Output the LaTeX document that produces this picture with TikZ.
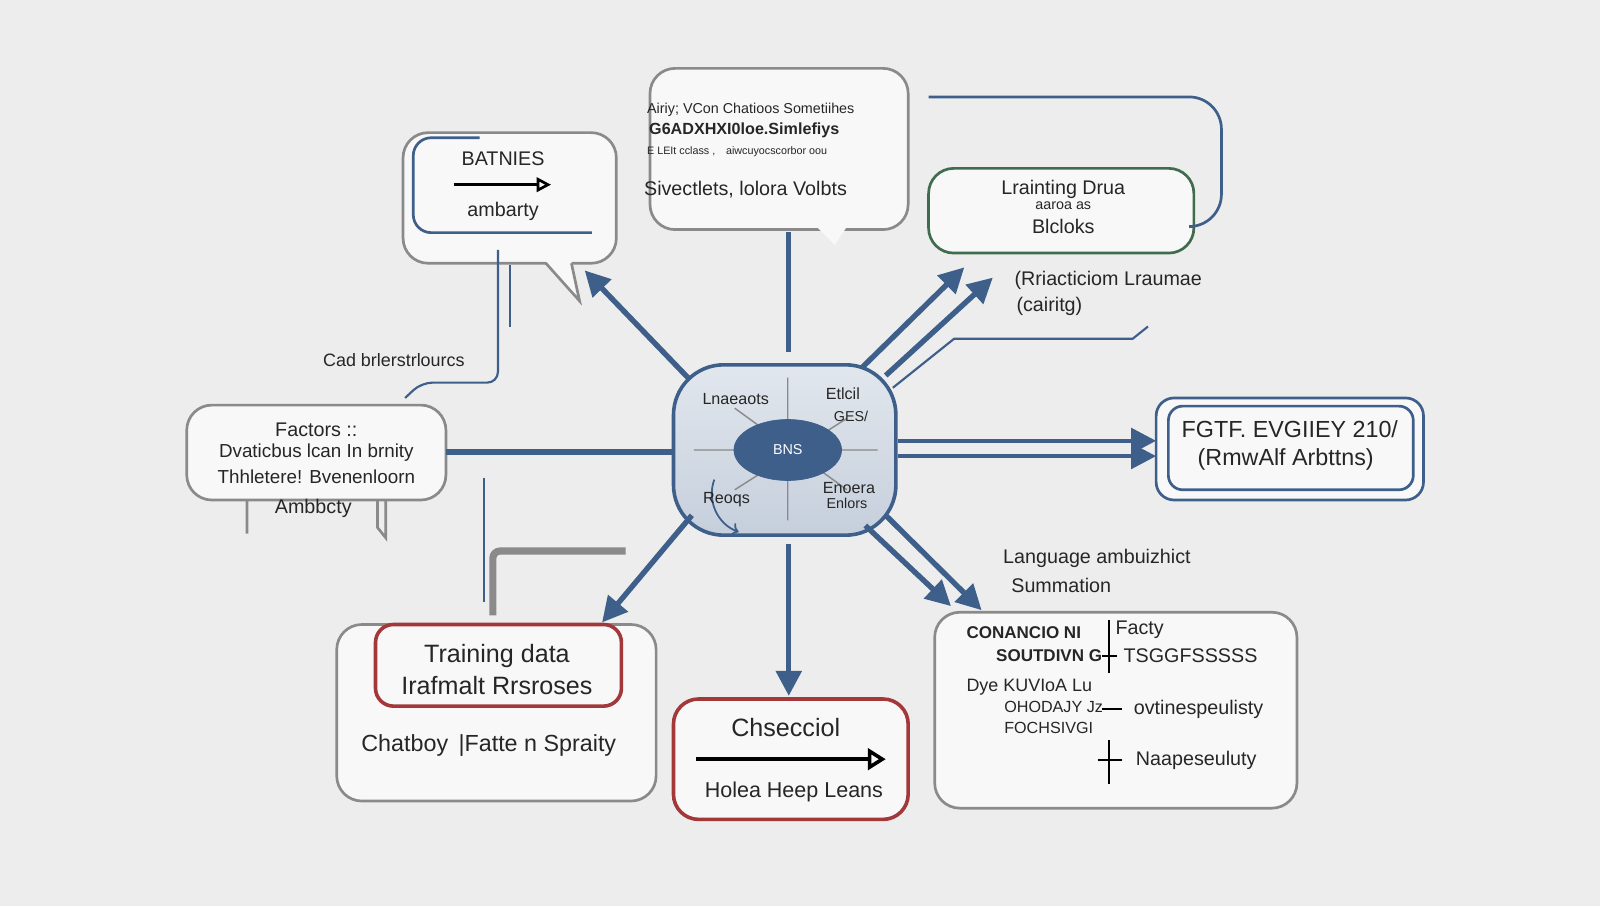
\documentclass[tikz,border=0pt]{standalone}
\usepackage{fontspec}
\setmainfont{Liberation Sans}
\usetikzlibrary{arrows.meta,shapes.geometric}
\definecolor{bg}{HTML}{EDEDED}
\definecolor{nb}{HTML}{3E5F8A}
\definecolor{gb}{HTML}{8A8A8A}
\definecolor{gr}{HTML}{3F6B4E}
\definecolor{rd}{HTML}{A2383A}
\tikzset{x=0.02cm,y=-0.02cm,
 box/.style={draw=gb,line width=1.5pt,rounded corners=14pt,fill=white!60!bg},
 conn/.style={draw=nb,line width=3pt},
 arr/.style={conn,-{Triangle[length=14pt,width=14pt]}},
 t/.style={font=\fontsize{11pt}{13pt}\selectfont,text=black!85},
 ts/.style={font=\fontsize{8pt}{9pt}\selectfont,text=black!85}}
\begin{document}
\begin{tikzpicture}
\fill[bg] (0,0) rectangle (1568,888);
\useasboundingbox (0,0) rectangle (1568,888);
% top center speech box
\draw[box] (637,67) rectangle (890,225);
\fill[white!60!bg] (800,222) -- (830,222) -- (818,240) -- cycle;
\node[ts,anchor=west] (a1) at (628,108) {Airiy; VCon Chatioos Sometiihes};
\node[ts,anchor=west,font=\fontsize{9pt}{10pt}\selectfont\bfseries] (a2) at (630,128) {G6ADXHXI0loe.Simlefiys};
\node[ts,anchor=west,font=\fontsize{6pt}{7pt}\selectfont] (a3) at (628,149) {E LEIt cclass ,\quad aiwcuyocscorbor oou};
\node[t,anchor=west] (a4) at (625,186) {Sivectlets, lolora Volbts};
% top left box
\draw[box] (395,130) rectangle (604,258);
\fill[white!60!bg] (535,256) -- (565,295) -- (560,256) -- cycle;
\draw[gb,line width=1.5pt] (535,258) -- (568,295) -- (560,258);
\draw[nb,line width=1.5pt,rounded corners=10pt] (580,228) -- (405,228) -- (405,135) -- (470,135);
\node[t] (b1) at (493,156) {BATNIES};
\draw[black,line width=1.5pt,-{Triangle[open,length=8pt,width=8pt]}] (445,181) -- (540,181);
\node[t] (b2) at (493,207) {ambarty};
% top right green
\draw[box,draw=gr] (910,165) rectangle (1170,248);
\node[t] (g1) at (1042,186) {Lrainting Drua};
\node[ts] (g2) at (1042,202) {aaroa as};
\node[t] (g3) at (1042,222) {Blcloks};
\draw[nb,line width=1.5pt,rounded corners=18pt] (910,95) -- (1197,95) -- (1197,222) -- (1170,222);
\node[t,anchor=west] (r1) at (988,275) {(Rriacticiom Lraumae};
\node[t,anchor=west] (r2) at (990,300) {(cairitg)};
\draw[nb,line width=1.2pt] (1125,320) -- (1110,332) -- (935,332) -- (875,380);
% right box
\draw[nb,line width=1.5pt,rounded corners=10pt,fill=white!60!bg] (1133,390) rectangle (1395,490);
\draw[nb,line width=1.5pt,rounded corners=8pt] (1145,398) rectangle (1385,480);
\node[t,font=\fontsize{13pt}{15pt}\selectfont] (rb1) at (1264,421) {FGTF. EVGIIEY 210/};
\node[t,font=\fontsize{13pt}{15pt}\selectfont] (rb2) at (1260,450) {(RmwAlf Arbttns)};
% center
\node[draw=nb,line width=2pt,rounded corners=28pt,inner sep=0pt,minimum width=4.36cm,minimum height=3.34cm,top color=white!85!nb,bottom color=white!70!nb] (c) at (769,441) {};
\draw[gb,line width=0.8pt] (680,441) -- (860,441) (772,370) -- (772,510) (720,400) -- (830,480) (830,410) -- (720,480);
\draw[nb,line width=1pt,->] (700,470) arc (200:110:40);
\node[draw=nb,fill=nb,ellipse,text=white,font=\fontsize{8pt}{9pt}\selectfont,minimum width=60pt,minimum height=34pt] (bns) at (772,441) {BNS};
\node[ts,font=\fontsize{9pt}{10pt}\selectfont] (c1) at (721,391) {Lnaeaots};
\node[ts,font=\fontsize{9pt}{10pt}\selectfont] (c2) at (826,386) {Etlcil};
\node[ts] (c3) at (834,408) {GES/};
\node[ts,font=\fontsize{9pt}{10pt}\selectfont] (c4) at (712,490) {Reoqs};
\node[ts,font=\fontsize{9pt}{10pt}\selectfont] (c5) at (832,478) {Enoera};
\node[ts] (c6) at (830,493) {Enlors};
% left
\draw[box] (183,397) rectangle (437,490);
\node[t] (l1) at (310,421) {Factors ::};
\node[t,font=\fontsize{10.5pt}{12pt}\selectfont] (l2) at (310,444) {Dvaticbus lcan In brnity};
\node[t,font=\fontsize{10.5pt}{12pt}\selectfont] (l3) at (310,467) {Thhletere! Bvenenloorn};
\node[t] (l4) at (307,498) {Ambbcty};
\draw[gb,line width=1.5pt] (242,490) -- (242,523) (370,490) -- (370,517) -- (378,527) -- (378,490);
\node[t,font=\fontsize{10pt}{12pt}\selectfont] (cb) at (386,353) {Cad brlerstrlourcs};
\draw[nb,line width=1.2pt,rounded corners=6pt] (488,245) -- (488,375) -- (413,375) -- (397,390);
\draw[nb,line width=1pt] (500,260) -- (500,320);
\draw[nb,line width=1pt] (474,468) -- (474,590);
\draw[gb,line width=4pt,rounded corners=4pt] (483,603) -- (483,540) -- (613,540);
% bottom left
\draw[box] (330,612) rectangle (643,785);
\draw[rd,line width=2pt,rounded corners=10pt,fill=white!60!bg] (368,612) rectangle (609,692);
\node[t,font=\fontsize{14pt}{16pt}\selectfont] (bl1) at (487,643) {Training data};
\node[t,font=\fontsize{14pt}{16pt}\selectfont] (bl2) at (487,672) {Irafmalt Rrsroses};
\node[t,font=\fontsize{13pt}{15pt}\selectfont] (bl3) at (479,731) {Chatboy \,|Fatte n Spraity};
% bottom center
\draw[box,draw=rd,line width=2pt] (660,685) rectangle (890,803);
\node[t,font=\fontsize{14pt}{16pt}\selectfont] (bc1) at (770,713) {Chsecciol};
\draw[black,line width=2pt,-{Triangle[open,length=10pt,width=12pt]}] (682,744) -- (868,744);
\node[t,font=\fontsize{12pt}{14pt}\selectfont] (bc2) at (778,776) {Holea Heep Leans};
% bottom right
\draw[box] (916,600) rectangle (1271,792);
\node[ts,font=\fontsize{9.5pt}{11pt}\selectfont\bfseries,anchor=west] (q1) at (941,620) {CONANCIO NI};
\node[ts,font=\fontsize{9.5pt}{11pt}\selectfont\bfseries,anchor=west] (q2) at (970,643) {SOUTDIVN G};
\node[t,anchor=west] (q3) at (1087,617) {Facty};
\node[t,anchor=west] (q4) at (1095,643) {TSGGFSSSSS};
\draw[black,line width=1pt] (1087,608) -- (1087,660) (1080,643) -- (1095,643);
\node[ts,font=\fontsize{10pt}{11pt}\selectfont,anchor=west] (q5) at (941,673) {Dye KUVIoA Lu};
\node[ts,font=\fontsize{9pt}{10pt}\selectfont,anchor=west] (q6) at (978,693) {OHODAJY Jz};
\node[ts,font=\fontsize{9pt}{10pt}\selectfont,anchor=west] (q7) at (978,713) {FOCHSIVGI};
\draw[black,line width=1pt] (1080,695) -- (1100,695) (1087,725) -- (1087,768) (1076,745) -- (1100,745);
\node[t,anchor=west] (q8) at (1105,695) {ovtinespeulisty};
\node[t,anchor=west] (q9) at (1107,745) {Naapeseuluty};
\node[t] (la1) at (1075,547) {Language ambuizhict};
\node[t] (la2) at (1040,574) {Summation};
% connectors
\coordinate (tl) at (573,265);
\draw[arr] (676,372) -- (tl);
\draw[conn] (773,345) -- (773,227);
\coordinate (tr1) at (945,262); \coordinate (tr2) at (973,272);
\draw[arr] (845,360) -- (tr1);
\draw[arr] (868,368) -- (tr2);
\draw[conn,line width=2.5pt,-{Triangle[length=14pt,width=14pt]}] (880,432) -- (1133,432);
\draw[conn,line width=2.5pt,-{Triangle[length=14pt,width=14pt]}] (880,447) -- (1133,447);
\draw[conn] (660,443) -- (437,443);
\draw[arr] (678,505) -- (590,610);
\draw[arr] (773,533) -- (773,682);
\draw[arr] (848,515) -- (932,594);
\draw[arr] (868,505) -- (962,598);
\end{tikzpicture}
\end{document}
